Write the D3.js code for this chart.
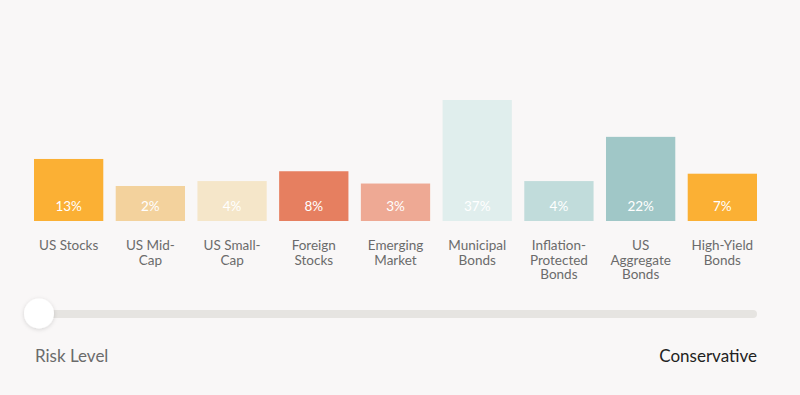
<!DOCTYPE html>
<html>
<head>
<meta charset="utf-8">
<script src="https://cdn.jsdelivr.net/npm/d3@7"></script>
<style>
  html, body { margin: 0; padding: 0; background: #f9f7f7; }
  svg { display: block; font-family: Lato, "Open Sans", sans-serif; }
</style>
</head>
<body>
<svg id="chart" width="800" height="395"></svg>
<script>
const categories = ["US Stocks", "US Mid-Cap", "US Small-Cap", "Foreign Stocks", "Emerging Market",
  "Municipal Bonds", "Inflation-Protected Bonds", "US Aggregate Bonds", "High-Yield Bonds"];
const labelLines = [["US Stocks"], ["US Mid-", "Cap"], ["US Small-", "Cap"], ["Foreign", "Stocks"],
  ["Emerging", "Market"], ["Municipal", "Bonds"], ["Inflation-", "Protected", "Bonds"],
  ["US", "Aggregate", "Bonds"], ["High-Yield", "Bonds"]];
const values = [13, 2, 4, 8, 3, 37, 4, 22, 7];
const colors = ["#fbb034", "#f3d29d", "#f5e6c9", "#e67f60", "#eea994", "#e0eeed", "#c1dcdb", "#a0c7c7", "#fbb034"];
const riskLabel = "Risk Level";
const riskValue = "Conservative";

const svg = d3.select("#chart");

const x = d3.scaleBand().domain(categories).range([34, 757]).paddingInner(0.152).paddingOuter(0);
// bars start from a baseline offset so even small allocations are visible
const y = d3.scaleLinear().domain([-12.25, 37]).range([221, 100]);

const g = svg.append("g");
g.selectAll("rect.bar").data(values).join("rect")
  .attr("class", "bar")
  .attr("x", (d, i) => x(categories[i]))
  .attr("y", d => y(d))
  .attr("width", x.bandwidth())
  .attr("height", d => y(-12.25) - y(d))
  .attr("fill", (d, i) => colors[i]);

g.selectAll("text.pct").data(values).join("text")
  .attr("class", "pct")
  .attr("x", (d, i) => x(categories[i]) + x.bandwidth() / 2)
  .attr("y", 211)
  .attr("text-anchor", "middle")
  .attr("fill", "#ffffff")
  .attr("font-size", 13.5)
  .attr("font-weight", 400)
  .text(d => d + "%");

const lab = g.selectAll("text.cat").data(labelLines).join("text")
  .attr("class", "cat")
  .attr("text-anchor", "middle")
  .attr("fill", "#6b6b6b")
  .attr("font-size", 13.5)
  .attr("font-weight", 400);
lab.selectAll("tspan").data((d, i) => d.map(t => ({ t, i }))).join("tspan")
  .attr("x", d => x(categories[d.i]) + x.bandwidth() / 2)
  .attr("y", (d, j) => 250 + j * 14.5)
  .text(d => d.t);

// slider
const defs = svg.append("defs");
const f = defs.append("filter").attr("id", "sh").attr("x", "-50%").attr("y", "-50%").attr("width", "200%").attr("height", "200%");
f.append("feDropShadow").attr("dx", 0).attr("dy", 1).attr("stdDeviation", 2).attr("flood-color", "#000").attr("flood-opacity", 0.15);

svg.append("rect").attr("x", 34).attr("y", 310).attr("width", 723).attr("height", 8)
  .attr("rx", 4).attr("fill", "#e6e4e1");
svg.append("circle").attr("cx", 39).attr("cy", 313.5).attr("r", 15)
  .attr("fill", "#ffffff").attr("filter", "url(#sh)");

svg.append("text").attr("x", 35).attr("y", 362).attr("fill", "#6b6b6b")
  .attr("font-size", 17).attr("font-weight", 400).text(riskLabel);
svg.append("text").attr("x", 757).attr("y", 362).attr("text-anchor", "end").attr("fill", "#222222")
  .attr("font-size", 17).attr("font-weight", 400).text(riskValue);
</script>
</body>
</html>
